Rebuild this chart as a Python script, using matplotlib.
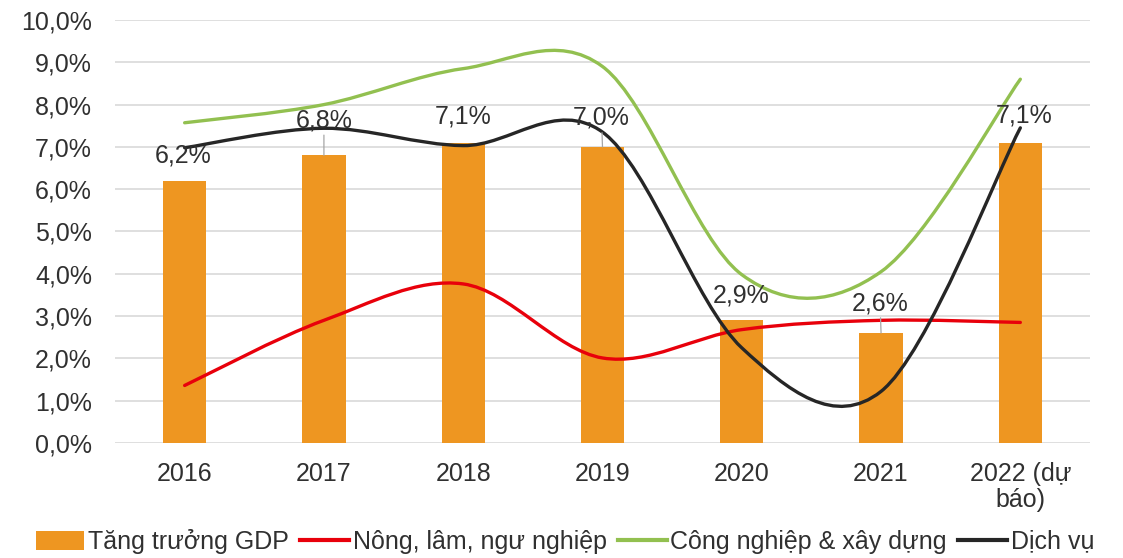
import numpy as np
import matplotlib.pyplot as plt
from matplotlib.path import Path
from matplotlib.patches import PathPatch, Patch
from matplotlib.lines import Line2D

plt.rcParams['font.family'] = ['Liberation Sans', 'DejaVu Sans']

years = ["2016", "2017", "2018", "2019", "2020", "2021", "2022 (dự\nbáo)"]
gdp = [6.2, 6.8, 7.1, 7.0, 2.9, 2.6, 7.1]
nong_lam = [1.36, 2.90, 3.76, 2.01, 2.68, 2.90, 2.85]
cong_nghiep = [7.57, 8.00, 8.85, 8.90, 3.98, 4.05, 8.60]
dich_vu = [6.98, 7.44, 7.03, 7.35, 2.25, 1.22, 7.45]

gdp_labels = ["6,2%", "6,8%", "7,1%", "7,0%", "2,9%", "2,6%", "7,1%"]
# label offset above bar top (pixels) and whether a leader line is shown
label_dy = [25, 35, 26, 29, 25, 30, 27]
label_dx = [-2, 0, 0, -1, -1, -1, 4]
leader = [False, True, False, True, False, True, False]

c_bar = "#EE9621"
c_red = "#E8000B"
c_green = "#92C050"
c_black = "#262626"
c_text = "#303030"


def smooth_path(x, y):
    # Excel-style smoothed line: cubic Bezier through each point
    pts = np.column_stack([x, y]).astype(float)
    n = len(pts)
    verts = [pts[0]]
    codes = [Path.MOVETO]
    for i in range(n - 1):
        p0 = pts[i - 1] if i > 0 else pts[i]
        p1 = pts[i]
        p2 = pts[i + 1]
        p3 = pts[i + 2] if i + 2 < n else pts[i + 1]
        c1 = p1 + (p2 - p0) / 6.0
        c2 = p2 - (p3 - p1) / 6.0
        verts += [c1, c2, p2]
        codes += [Path.CURVE4] * 3
    return Path(verts, codes)


fig = plt.figure(figsize=(11.23, 5.58), dpi=100)
ax = fig.add_axes([0.1024, 0.2061, 0.8682, 0.7581])

x = np.arange(len(years))
ax.bar(x, gdp, width=0.31, color=c_bar, zorder=2)

for vals, col in [(nong_lam, c_red), (cong_nghiep, c_green), (dich_vu, c_black)]:
    patch = PathPatch(smooth_path(x, vals), facecolor="none", edgecolor=col,
                      lw=2.4, capstyle="round", zorder=3)
    ax.add_patch(patch)

for i, v in enumerate(gdp):
    kw = {}
    if leader[i]:
        kw["arrowprops"] = dict(arrowstyle="-", color="#A6A6A6", lw=0.9,
                                shrinkA=0, shrinkB=0)
    ax.annotate(gdp_labels[i], xy=(x[i], v), xytext=(label_dx[i], label_dy[i]),
                textcoords="offset pixels", ha="center", va="center",
                fontsize=18, color=c_text, zorder=5, **kw)

ax.set_xlim(-0.5, len(years) - 0.5)
ax.set_ylim(0, 10)
ax.set_yticks(np.arange(0, 11, 1))
ax.set_yticklabels([f"{v},0%" for v in range(11)])
ax.set_xticks(x)
ax.set_xticklabels(years, linespacing=1.1)
ax.tick_params(axis="y", length=0, pad=16.5, labelsize=18, labelcolor=c_text)
ax.tick_params(axis="x", length=0, pad=14, labelsize=18, labelcolor=c_text)
ax.yaxis.grid(True, color="#D9D9D9", lw=1.2)
ax.set_axisbelow(True)
for s in ax.spines.values():
    s.set_visible(False)

handles = [
    Patch(facecolor=c_bar, edgecolor="none"),
    Line2D([], [], color=c_red, lw=3),
    Line2D([], [], color=c_green, lw=3),
    Line2D([], [], color=c_black, lw=3),
]
names = ["Tăng trưởng GDP", "Nông, lâm, ngư nghiệp", "Công nghiệp & xây dựng", "Dịch vụ"]
fig.legend(handles, names, loc="center", bbox_to_anchor=(0.503, 0.03), ncol=4,
           frameon=False, fontsize=18, handlelength=1.95, handleheight=0.8,
           handletextpad=0.15, columnspacing=0.45, labelcolor=c_text)

fig.savefig("out.png", dpi=100, facecolor="white")
